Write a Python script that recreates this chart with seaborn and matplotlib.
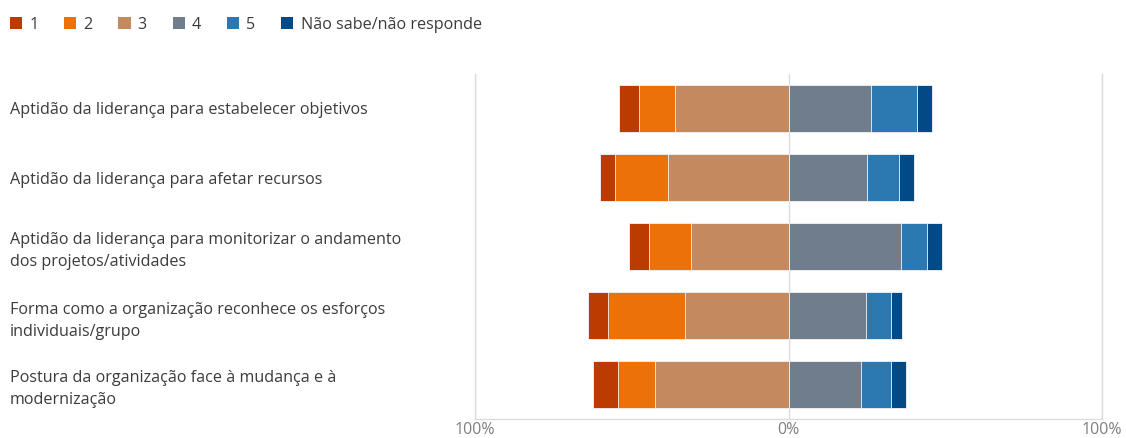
import numpy as np
import pandas as pd
import seaborn as sns
import matplotlib.pyplot as plt
from matplotlib.patches import Patch

categories = [
    'Aptidão da liderança para estabelecer objetivos',
    'Aptidão da liderança para afetar recursos',
    'Aptidão da liderança para monitorizar o andamento\ndos projetos/atividades',
    'Forma como a organização reconhece os esforços\nindividuais/grupo',
    'Postura da organização face à mudança e à\nmodernização',
]
# percentages per answer
v1 = [6.5, 4.9, 6.6, 6.4, 8.2]
v2 = [11.6, 16.8, 13.2, 24.7, 11.6]
v3 = [36.1, 38.4, 31.2, 32.9, 42.7]
v4 = [26.4, 24.9, 36.0, 24.6, 23.0]
v5 = [14.7, 10.2, 8.2, 8.2, 9.7]
vns = [4.8, 4.8, 4.9, 3.3, 4.8]
series_names = ['1', '2', '3', '4', '5', 'Não sabe/não responde']
colors = ['#bb3b00', '#eb7108', '#c4895e', '#6f7d8d', '#2b79b0', '#014a85']
tick_vals = [-100, 0, 100]
tick_labels = ['100%', '0%', '100%']

df = pd.DataFrame({'cat': categories, '1': v1, '2': v2, '3': v3, '4': v4, '5': v5, 'ns': vns})
# cumulative values, left side negative
df['l3'] = -df['3']
df['l2'] = -(df['3'] + df['2'])
df['l1'] = -(df['3'] + df['2'] + df['1'])
df['r4'] = df['4']
df['r5'] = df['4'] + df['5']
df['rns'] = df['4'] + df['5'] + df['ns']

sns.set_style('white')
plt.rcParams['font.family'] = ['Open Sans', 'DejaVu Sans']

fig = plt.figure(figsize=(11.26, 4.38), dpi=100)
ax = fig.add_axes([475 / 1126, 1 - 419 / 438, 627 / 1126, 345 / 438])

layers = [('l1', 0), ('l2', 1), ('l3', 2), ('rns', 5), ('r5', 4), ('r4', 3)]
for col, ci in layers:
    sns.barplot(data=df, y='cat', x=col, order=categories, orient='h', color=colors[ci],
                width=0.667, edgecolor='#f4f4f4', linewidth=0.6, saturation=1, ax=ax)

ax.set_xlim(-100, 100)
ax.set_xticks(tick_vals)
ax.set_xticklabels(tick_labels, color='#7f7f7f', fontsize=11.5)
ax.set_xlabel('')
ax.set_ylabel('')
ax.set_axisbelow(True)
ax.xaxis.grid(True, color='#dcdcdc', linewidth=1)
ax.spines['top'].set_visible(False)
for s in ['left', 'right', 'bottom']:
    ax.spines[s].set_color('#dcdcdc')
    ax.spines[s].set_linewidth(1)
ax.tick_params(axis='x', length=0, pad=2)
ax.tick_params(axis='y', length=0, pad=465 * 0.72)
for lbl in ax.get_yticklabels():
    lbl.set_horizontalalignment('left')
    lbl.set_color('#3c3c3c')
    lbl.set_fontsize(11.6)
    lbl.set_linespacing(1.5)

handles = [Patch(facecolor=c, edgecolor='none') for c in colors]
fig.legend(handles, series_names, loc='upper left', bbox_to_anchor=(-0.004, 0.995), ncol=6,
           frameon=False, handlelength=0.75, handleheight=0.75, handletextpad=0.45,
           columnspacing=1.6, fontsize=11.6, labelcolor='#3c3c3c')

fig.savefig('out.png', dpi=100)
